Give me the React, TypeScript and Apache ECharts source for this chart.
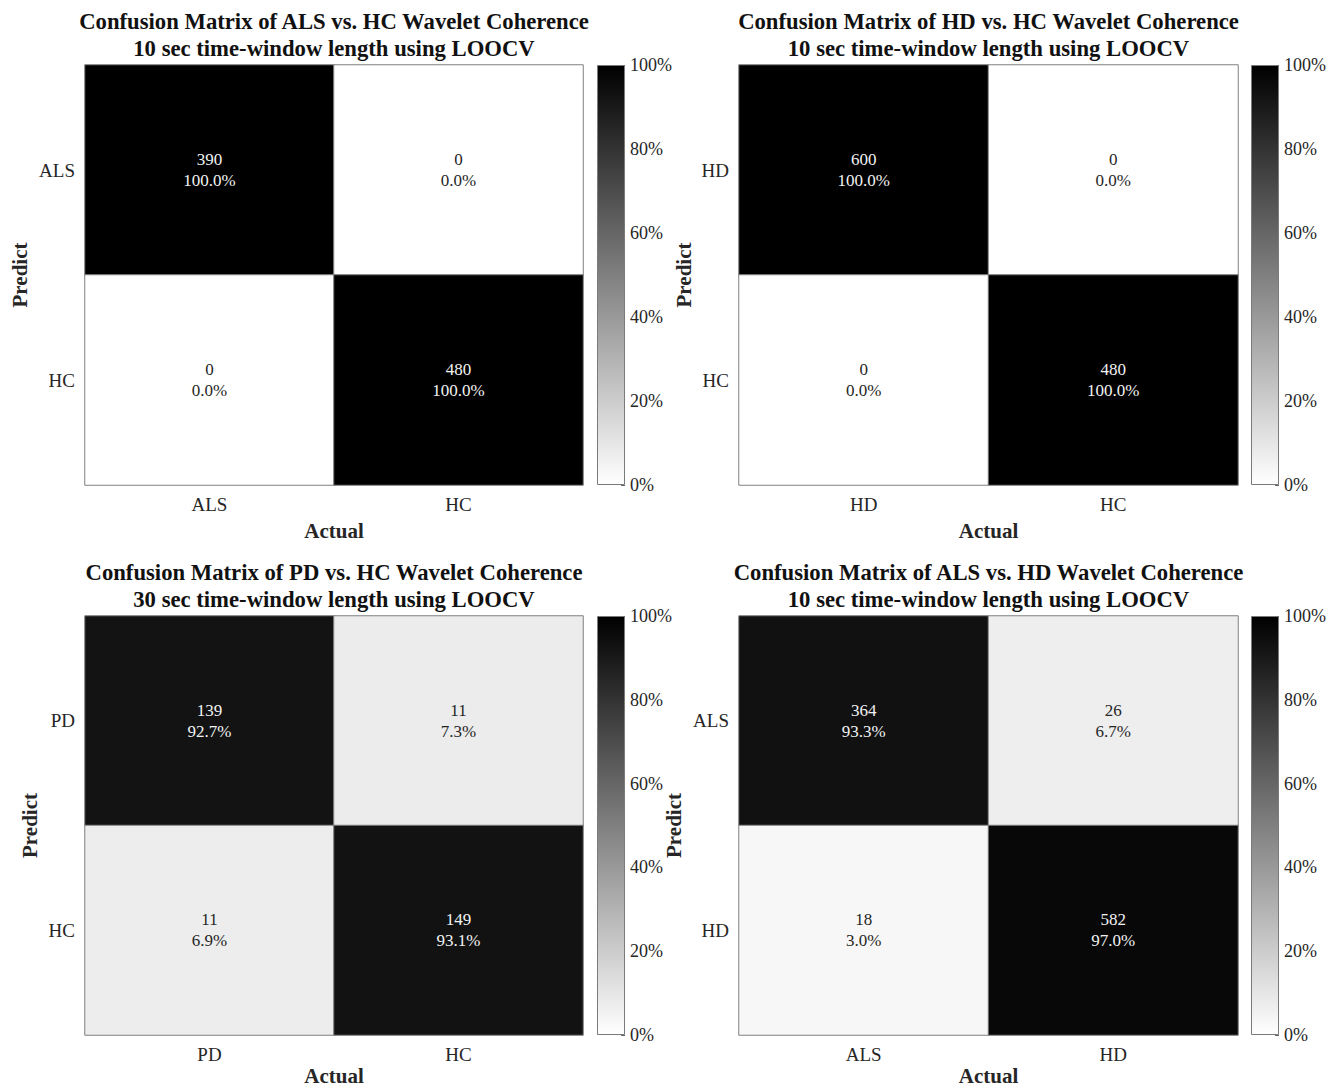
import React, { useEffect, useRef } from "react";
import * as echarts from "echarts";

const titles: string[][] = [
  ["Confusion Matrix of ALS vs. HC Wavelet Coherence", "10 sec time-window length using LOOCV"],
  ["Confusion Matrix of HD vs. HC Wavelet Coherence", "10 sec time-window length using LOOCV"],
  ["Confusion Matrix of PD vs. HC Wavelet Coherence", "30 sec time-window length using LOOCV"],
  ["Confusion Matrix of ALS vs. HD Wavelet Coherence", "10 sec time-window length using LOOCV"],
];
const classes: string[][] = [
  ["ALS", "HC"],
  ["HD", "HC"],
  ["PD", "HC"],
  ["ALS", "HD"],
];
// rows = Predict (top to bottom), columns = Actual (left to right)
const alsHcCounts = [[390, 0], [0, 480]];
const alsHcPercents = [[100.0, 0.0], [0.0, 100.0]];
const hdHcCounts = [[600, 0], [0, 480]];
const hdHcPercents = [[100.0, 0.0], [0.0, 100.0]];
const pdHcCounts = [[139, 11], [11, 149]];
const pdHcPercents = [[92.7, 7.3], [6.9, 93.1]];
const alsHdCounts = [[364, 26], [18, 582]];
const alsHdPercents = [[93.3, 6.7], [3.0, 97.0]];
const colorbarTicks = [0, 20, 40, 60, 80, 100];
const xAxisName = "Actual";
const yAxisName = "Predict";

const counts = [alsHcCounts, hdHcCounts, pdHcCounts, alsHdCounts];
const percents = [alsHcPercents, hdHcPercents, pdHcPercents, alsHdPercents];

const W = 1331;
const H = 1088;
const layouts = [
  { left: 85, top: 65, width: 498, height: 420, cbLeft: 597, predictX: 20 },
  { left: 739, top: 65, width: 499, height: 420, cbLeft: 1251, predictX: 684 },
  { left: 85, top: 616, width: 498, height: 419, cbLeft: 597, predictX: 30 },
  { left: 739, top: 616, width: 499, height: 419, cbLeft: 1251, predictX: 674 },
];

const FONT = '"Liberation Serif", "Times New Roman", serif';
const TEXT = "#262626";

export default function App() {
  const ref = useRef<HTMLDivElement>(null);
  useEffect(() => {
    document.body.style.margin = "0";
    if (!ref.current) return;
    const chart = echarts.init(ref.current, undefined, { renderer: "svg" });
    const grids: any[] = [];
    const xAxes: any[] = [];
    const yAxes: any[] = [];
    const series: any[] = [];
    const visualMaps: any[] = [];
    const graphics: any[] = [];

    layouts.forEach((l, i) => {
      grids.push({ left: l.left, top: l.top, width: l.width, height: l.height, containLabel: false });
      xAxes.push({
        type: "category",
        gridIndex: i,
        data: classes[i],
        position: "bottom",
        axisLine: { show: false },
        axisTick: { show: false },
        splitLine: { show: false },
        axisLabel: { fontSize: 19, fontFamily: FONT, color: TEXT, margin: 10 },
      });
      yAxes.push({
        type: "category",
        gridIndex: i,
        data: classes[i],
        inverse: true,
        axisLine: { show: false },
        axisTick: { show: false },
        splitLine: { show: false },
        axisLabel: { fontSize: 19, fontFamily: FONT, color: TEXT, margin: 10 },
      });
      const data: any[] = [];
      for (let r = 0; r < 2; r++) {
        for (let c = 0; c < 2; c++) {
          const p = percents[i][r][c];
          data.push({
            value: [c, r, p],
            count: counts[i][r][c],
            label: { color: p > 50 ? "#f2f2f2" : TEXT },
          });
        }
      }
      series.push({
        type: "heatmap",
        xAxisIndex: i,
        yAxisIndex: i,
        data,
        silent: true,
        itemStyle: { borderColor: "#808080", borderWidth: 1 },
        emphasis: { disabled: true },
        label: {
          show: true,
          fontSize: 17,
          lineHeight: 21,
          fontFamily: FONT,
          formatter: (pp: any) => `${pp.data.count}\n${pp.data.value[2].toFixed(1)}%`,
        },
      });
      visualMaps.push({
        type: "continuous",
        show: false,
        seriesIndex: i,
        dimension: 2,
        min: 0,
        max: 100,
        inRange: { color: ["#ffffff", "#000000"] },
      });
    });

    layouts.forEach((l, i) => {
      const gi = 4 + i;
      grids.push({ left: l.cbLeft, top: l.top, width: 28, height: l.height, containLabel: false });
      xAxes.push({ type: "category", gridIndex: gi, data: ["colorbar"], show: false });
      yAxes.push({
        type: "value",
        gridIndex: gi,
        min: colorbarTicks[0],
        max: colorbarTicks[colorbarTicks.length - 1],
        interval: colorbarTicks[1] - colorbarTicks[0],
        position: "right",
        axisLine: { show: false },
        axisTick: { show: true, inside: true, length: 4, lineStyle: { color: "#666" } },
        splitLine: { show: false },
        axisLabel: { formatter: "{value}%", fontSize: 18, fontFamily: FONT, color: TEXT, margin: 5 },
      });
      series.push({
        type: "bar",
        xAxisIndex: gi,
        yAxisIndex: gi,
        data: [colorbarTicks[colorbarTicks.length - 1]],
        barWidth: "100%",
        silent: true,
        itemStyle: {
          color: new echarts.graphic.LinearGradient(0, 0, 0, 1, [
            { offset: 0, color: "#000000" },
            { offset: 1, color: "#ffffff" },
          ]),
          borderColor: "#7a7a7a",
          borderWidth: 1,
        },
      });
      const cx = l.left + l.width / 2;
      graphics.push({
        type: "text",
        x: cx,
        y: l.top - 30.5,
        style: {
          text: titles[i].join("\n"),
          font: `bold 22.7px ${FONT}`,
          fill: "#111",
          align: "center",
          verticalAlign: "middle",
          lineHeight: 27,
        },
      });
      graphics.push({
        type: "text",
        x: cx,
        y: Math.min(l.top + l.height + 46, H - 12),
        style: {
          text: xAxisName,
          font: `bold 21px ${FONT}`,
          fill: TEXT,
          align: "center",
          verticalAlign: "middle",
        },
      });
      graphics.push({
        type: "text",
        x: l.predictX,
        y: l.top + l.height / 2,
        rotation: Math.PI / 2,
        style: {
          text: yAxisName,
          font: `bold 21px ${FONT}`,
          fill: TEXT,
          align: "center",
          verticalAlign: "middle",
        },
      });
    });

    chart.setOption({
      animation: false,
      backgroundColor: "#ffffff",
      grid: grids,
      xAxis: xAxes,
      yAxis: yAxes,
      visualMap: visualMaps,
      series,
      graphic: graphics,
    });
    return () => chart.dispose();
  }, []);
  return <div ref={ref} style={{ width: W, height: H }} />;
}
